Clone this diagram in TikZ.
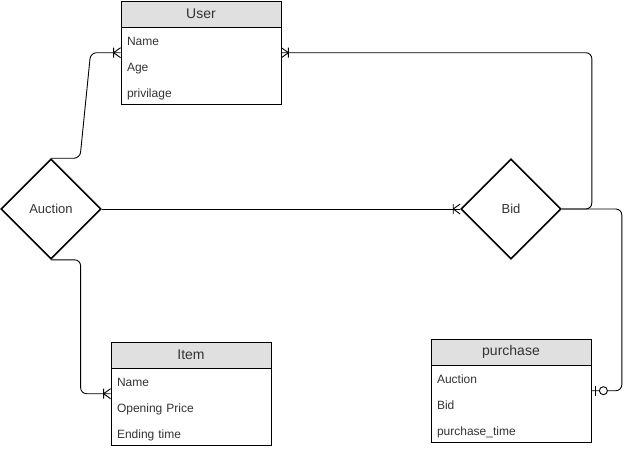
\documentclass[tikz,border=0pt]{standalone}
\usepackage{fontspec}
\setmainfont{Liberation Sans}
\usetikzlibrary{positioning,fit,shapes.geometric,decorations.markings}
\definecolor{hdrfill}{HTML}{E0E0E0}
\definecolor{hdrtext}{HTML}{333333}
\tikzset{
	ehead/.style={draw,fill=hdrfill,text=hdrtext,minimum width=160pt,minimum height=26pt,inner sep=0pt,font=\fontsize{14}{16}\selectfont},
	erows/.style={draw,minimum width=160pt,minimum height=77pt,text width=148pt,inner xsep=6pt,inner ysep=0pt,align=left,text=hdrtext,font=\fontsize{12}{26}\selectfont,execute at begin node={\rule{0pt}{14pt}}},
	rel/.style={diamond,draw,line width=1.6pt,minimum size=100pt,inner sep=0pt,aspect=1,text=hdrtext,font=\fontsize{13}{15}\selectfont},
	conn/.style={line width=0.9pt,rounded corners=6pt},
	onemany/.style={postaction={decorate,decoration={markings,mark=at position 1 with {\draw[line width=0.9pt,rounded corners=0pt] (-7pt,-5pt) -- (-7pt,5pt) (-7pt,0pt) -- (0pt,5pt) (-7pt,0pt) -- (0pt,-5pt);}}}},
	zeroone/.style={postaction={decorate,decoration={markings,mark=at position 1 with {\draw[line width=0.9pt] (-4pt,-5pt) -- (-4pt,5pt); \draw[line width=0.9pt,fill=white] (-12pt,0pt) circle (4pt);}}}}
}
\begin{document}
\begin{tikzpicture}[x=1pt,y=-1pt]
	\useasboundingbox (0,0) rectangle (630,450);
	% entities
	\node[ehead] (user) at (201,14) {User};
	\node[erows,below=0pt of user] (userrows) {Name\\Age\\privilage};
	\node[fit=(user)(userrows),inner sep=0pt] (userbox) {};
	\node[ehead] (item) at (191,355) {Item};
	\node[erows,below=0pt of item] (itemrows) {Name\\Opening Price\\Ending time};
	\node[fit=(item)(itemrows),inner sep=0pt] (itembox) {};
	\node[ehead] (purchase) at (511,352) {purchase};
	\node[erows,below=0pt of purchase] (purchaserows) {Auction\\Bid\\purchase\_time};
	\node[fit=(purchase)(purchaserows),inner sep=0pt] (purchasebox) {};
	% relations
	\node[rel] (auction) at (51,209) {Auction};
	\node[rel] (bid) at (511,209) {Bid};
	% connectors
	\draw[conn,onemany] (auction.north) -- ++(29,0) -- ([xshift=-30pt]userbox.west) -- (userbox.west);
	\draw[conn,onemany] (bid.east) -- ++(30,0) |- (userbox.east);
	\draw[conn,onemany] (auction.east) -- (bid.west);
	\draw[conn,onemany] (auction.south) -| ([xshift=-30pt]itembox.west) -- (itembox.west);
	\draw[conn,zeroone] (bid.east) -- ++(60,0) |- (purchasebox.east);
\end{tikzpicture}
\end{document}
